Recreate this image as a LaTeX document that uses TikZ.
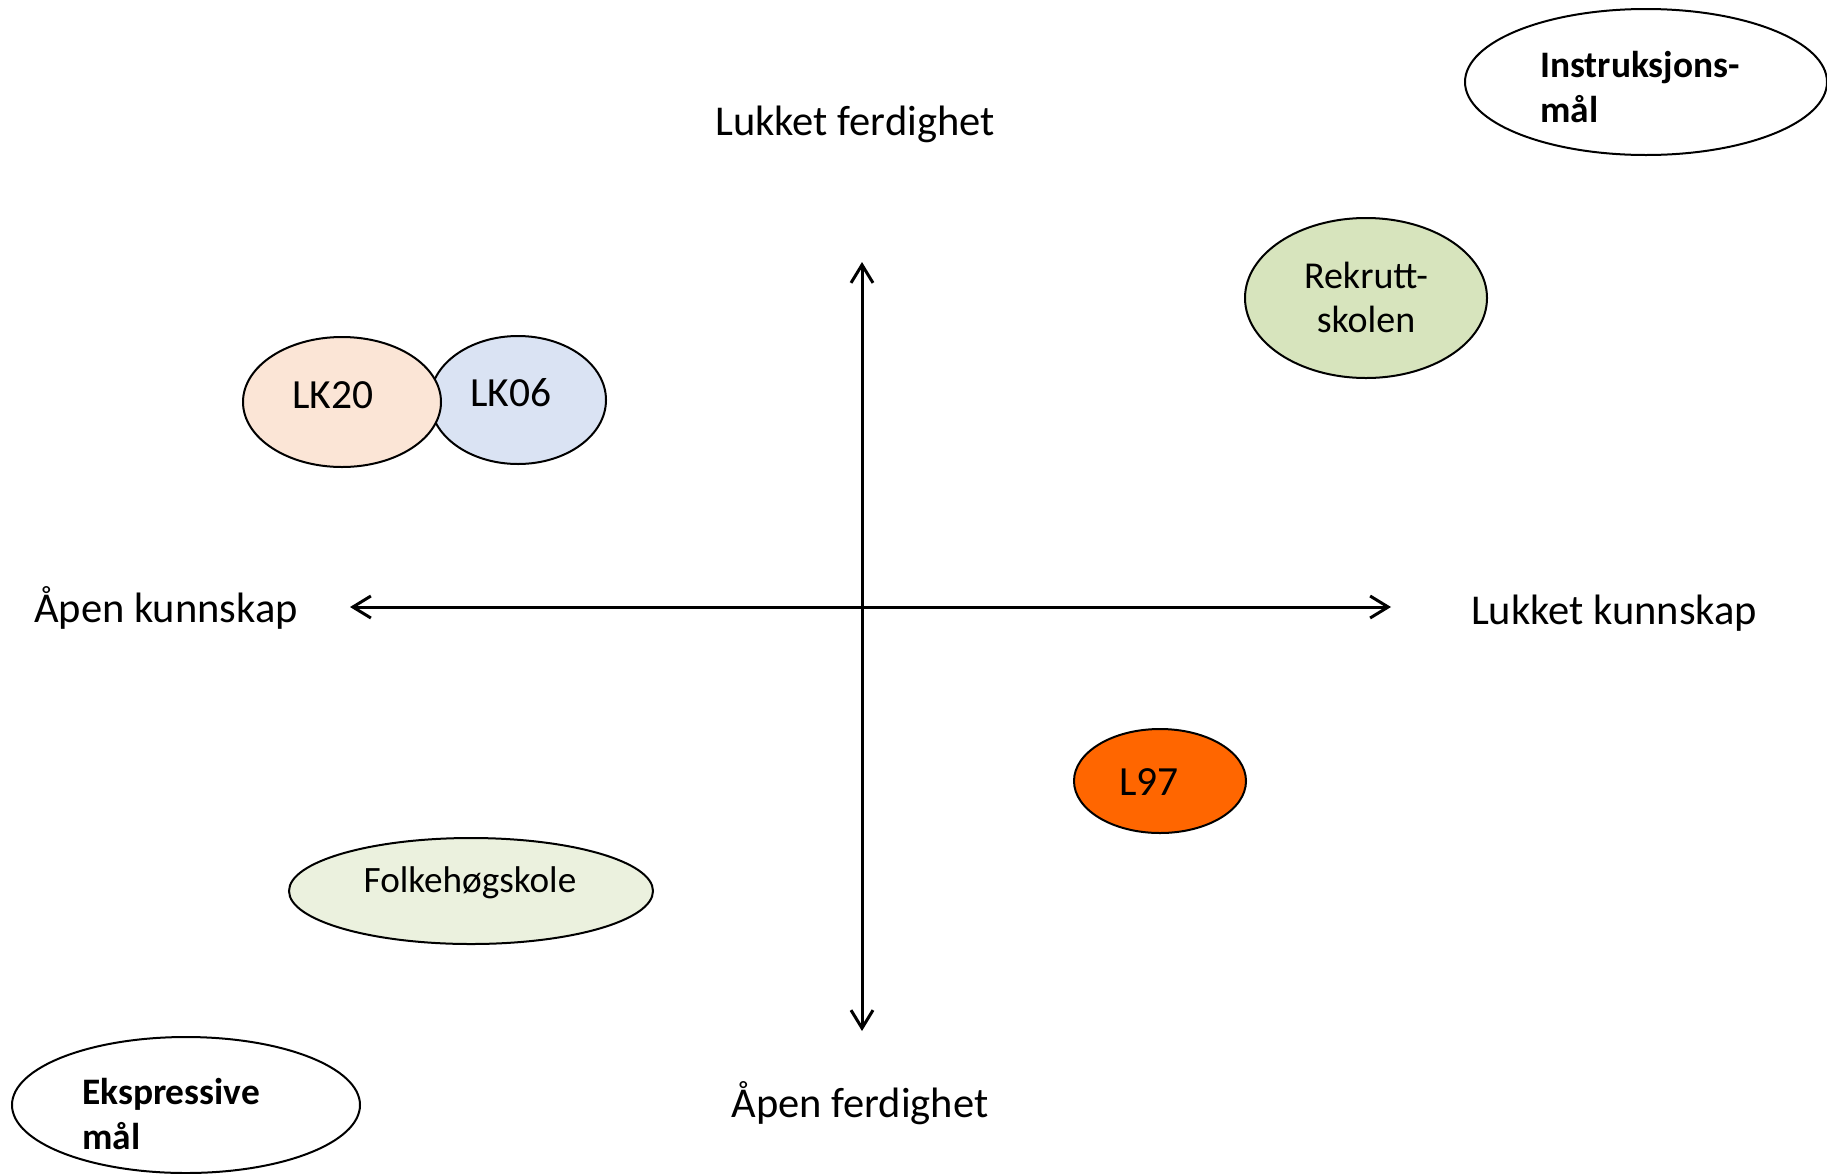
\documentclass[tikz,border=0pt]{standalone}
\usepackage{fontspec}
\setmainfont{Carlito}
\usetikzlibrary{shapes.geometric,arrows.meta}
\definecolor{peach}{HTML}{FBE5D6}
\definecolor{paleblue}{HTML}{DAE3F3}
\definecolor{sage}{HTML}{D7E4BD}
\definecolor{palegreen}{HTML}{EBF1DE}
\definecolor{orangefill}{HTML}{FF6600}
\tikzset{
  ell/.style={draw=black, line width=2pt, ellipse, inner sep=0pt},
  axislabel/.style={anchor=base, inner sep=0pt, font=\fontsize{42.5}{46}\selectfont},
  elltext/.style={anchor=base, inner sep=0pt, font=\fontsize{#1}{#1}\selectfont},
  elltext/.default=38,
  boldtext/.style={anchor=base west, inner sep=0pt, font=\fontsize{37.4}{40}\selectfont\bfseries},
  axis/.style={line width=3pt, {Straight Barb[length=18pt,width=22pt,line width=3pt]}-{Straight Barb[length=18pt,width=22pt,line width=3pt]}}
}
\begin{document}
\begin{tikzpicture}[x=1pt,y=-1pt]
\useasboundingbox (0,0) rectangle (1827,1173);
\fill[white] (0,0) rectangle (1827,1173);

% axes
\coordinate (axtop) at (862,262);
\coordinate (axbot) at (862,1031);
\coordinate (axleft) at (350,607);
\coordinate (axright) at (1391,607);
\draw[axis] (axtop) -- (axbot);
\draw[axis] (axleft) -- (axright);

% axis labels
\node[axislabel] (lf) at (855,135) {Lukket ferdighet};
\node[axislabel] (ak) at (166,622) {Åpen kunnskap};
\node[axislabel] (lk) at (1614,624) {Lukket kunnskap};
\node[axislabel] (af) at (860,1117) {Åpen ferdighet};

% corner ellipses
\node[ell, fill=white, minimum width=362pt, minimum height=146pt] (instr) at (1646,82) {};
\node[boldtext] (instrt1) at (1540,77) {Instruksjons-};
\node[boldtext] (instrt2) at (1540,122) {mål};
\node[ell, fill=white, minimum width=348pt, minimum height=136pt] (ekspr) at (186,1105) {};
\node[boldtext] (ekspt1) at (82,1104) {Ekspressive};
\node[boldtext] (ekspt2) at (82,1149) {mål};

% curriculum ellipses
\node[ell, fill=paleblue, minimum width=176pt, minimum height=128pt] (lk06) at (518,400) {};
\node[ell, fill=peach, minimum width=198pt, minimum height=130pt] (lk20) at (342,402) {};
\node[elltext=41.5] (lk20t) at (333,408) {LK20};
\node[elltext=41.5] (lk06t) at (511,406) {LK06};

\node[ell, fill=sage, minimum width=242pt, minimum height=160pt] (rekr) at (1366,298) {};
\node[elltext=38] (rekrt1) at (1366,288) {Rekrutt-};
\node[elltext=38] (rekrt2) at (1366,332) {skolen};

\node[ell, fill=orangefill, minimum width=172pt, minimum height=104pt] (l97) at (1160,781) {};
\node[elltext=41.5] (l97t) at (1149,795) {L97};

\node[ell, fill=palegreen, minimum width=364pt, minimum height=106pt] (folk) at (471,891) {};
\node[elltext=37.2] (folkt) at (470,892) {Folkehøgskole};
\end{tikzpicture}
\end{document}
